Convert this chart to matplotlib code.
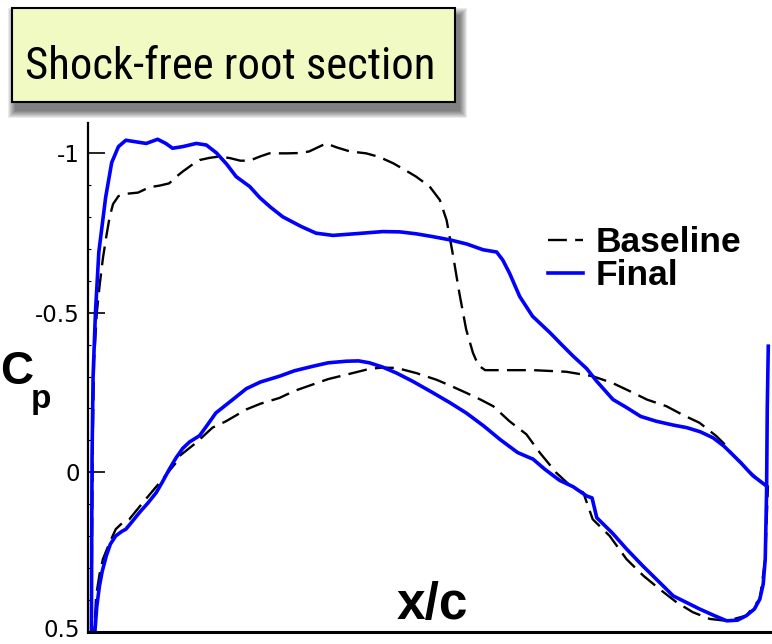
import matplotlib
matplotlib.use("Agg")
import matplotlib.pyplot as plt
from matplotlib import font_manager
from matplotlib.patches import Rectangle
from matplotlib.transforms import ScaledTranslation

plt.rcParams["font.family"] = ["Liberation Sans", "DejaVu Sans"]

# Cp distributions (x/c, Cp) for the root section
final_upper_x = [0.000, 0.0005, 0.001, 0.0025, 0.006, 0.011, 0.021, 0.030, 0.040, 0.051,
                 0.066, 0.081, 0.098, 0.110, 0.120, 0.135, 0.155, 0.170, 0.185, 0.200,
                 0.214, 0.234, 0.249, 0.265, 0.283, 0.310, 0.332, 0.357, 0.395, 0.431,
                 0.456, 0.480, 0.505, 0.530, 0.555, 0.579, 0.599, 0.608, 0.618, 0.633,
                 0.652, 0.678, 0.695, 0.712, 0.732, 0.747, 0.771, 0.791, 0.812, 0.835,
                 0.860, 0.880, 0.900, 0.919, 0.935, 0.948, 0.960, 0.969, 0.978, 0.988, 0.998]
final_upper_cp = [0.55, 0.20, -0.05, -0.30, -0.50, -0.69, -0.86, -0.97, -1.02, -1.04,
                  -1.035, -1.03, -1.043, -1.03, -1.015, -1.02, -1.03, -1.025, -1.00, -0.965,
                  -0.926, -0.895, -0.86, -0.83, -0.80, -0.77, -0.749, -0.742, -0.748, -0.754,
                  -0.753, -0.747, -0.738, -0.728, -0.715, -0.697, -0.690, -0.665, -0.624, -0.551,
                  -0.489, -0.437, -0.400, -0.364, -0.325, -0.285, -0.228, -0.203, -0.175, -0.160,
                  -0.148, -0.140, -0.127, -0.108, -0.082, -0.055, -0.030, -0.009, 0.011, 0.027, 0.043]

final_lower_x = [0.003, 0.0055, 0.008, 0.012, 0.016, 0.022, 0.028, 0.036, 0.045, 0.051,
                 0.060, 0.071, 0.084, 0.096, 0.105, 0.115, 0.125, 0.135, 0.145, 0.160,
                 0.172, 0.184, 0.209, 0.229, 0.250, 0.278, 0.300, 0.327, 0.350, 0.377,
                 0.395, 0.411, 0.430, 0.451, 0.475, 0.505, 0.530, 0.554, 0.580, 0.604,
                 0.630, 0.653, 0.670, 0.692, 0.712, 0.732, 0.740, 0.747, 0.770, 0.791,
                 0.815, 0.840, 0.860, 0.880, 0.899, 0.920, 0.939, 0.955, 0.968, 0.980,
                 0.988, 0.993, 0.996, 0.998, 0.999, 1.0005]
final_lower_cp = [0.60, 0.49, 0.42, 0.355, 0.31, 0.262, 0.225, 0.199, 0.185, 0.178,
                  0.155, 0.126, 0.095, 0.063, 0.030, -0.009, -0.045, -0.075, -0.095, -0.115,
                  -0.150, -0.186, -0.228, -0.262, -0.283, -0.301, -0.318, -0.332, -0.343, -0.348,
                  -0.349, -0.343, -0.330, -0.311, -0.285, -0.249, -0.218, -0.186, -0.145, -0.103,
                  -0.062, -0.041, -0.010, 0.025, 0.045, 0.074, 0.080, 0.142, 0.190, 0.240,
                  0.293, 0.345, 0.387, 0.408, 0.428, 0.448, 0.465, 0.463, 0.449, 0.428,
                  0.397, 0.350, 0.272, 0.060, -0.200, -0.395]

base_upper_x = [0.000, 0.001, 0.002, 0.004, 0.008, 0.012, 0.017, 0.022, 0.027, 0.032,
                0.040, 0.050, 0.069, 0.086, 0.101, 0.115, 0.125, 0.135, 0.148, 0.160,
                0.175, 0.189, 0.205, 0.220, 0.234, 0.249, 0.263, 0.290, 0.308, 0.322,
                0.335, 0.347, 0.362, 0.382, 0.406, 0.425, 0.446, 0.465, 0.480, 0.500,
                0.515, 0.525, 0.534, 0.544, 0.554, 0.564, 0.572, 0.582, 0.604, 0.653,
                0.702, 0.741, 0.770, 0.801, 0.821, 0.850, 0.874, 0.899, 0.924, 0.935,
                0.948, 0.969, 0.988, 0.998]
base_upper_cp = [0.55, 0.20, -0.10, -0.35, -0.50, -0.582, -0.67, -0.738, -0.80, -0.840,
                 -0.865, -0.872, -0.876, -0.893, -0.898, -0.905, -0.925, -0.942, -0.962, -0.978,
                 -0.985, -0.989, -0.984, -0.976, -0.976, -0.989, -0.999, -0.999, -1.000, -1.005,
                 -1.018, -1.030, -1.018, -1.005, -0.999, -0.988, -0.968, -0.945, -0.926, -0.895,
                 -0.853, -0.790, -0.686, -0.560, -0.447, -0.374, -0.335, -0.320, -0.320, -0.320,
                 -0.315, -0.301, -0.280, -0.249, -0.228, -0.207, -0.180, -0.155, -0.113, -0.090,
                 -0.055, -0.009, 0.027, 0.043]

base_lower_x = [0.002, 0.007, 0.012, 0.017, 0.027, 0.036, 0.045, 0.056, 0.076, 0.101,
                0.125, 0.130, 0.155, 0.179, 0.199, 0.229, 0.250, 0.278, 0.300, 0.327,
                0.350, 0.377, 0.411, 0.430, 0.451, 0.480, 0.510, 0.530, 0.554, 0.575,
                0.594, 0.618, 0.643, 0.663, 0.687, 0.712, 0.727, 0.741, 0.766, 0.791,
                0.816, 0.840, 0.865, 0.889, 0.914, 0.939, 0.968, 0.988, 0.996, 0.999, 1.000]
base_lower_cp = [0.60, 0.387, 0.32, 0.272, 0.220, 0.178, 0.160, 0.147, 0.095, 0.032,
                 -0.030, -0.051, -0.093, -0.140, -0.160, -0.197, -0.215, -0.233, -0.255, -0.275,
                 -0.292, -0.306, -0.324, -0.328, -0.327, -0.311, -0.290, -0.272, -0.249, -0.228,
                 -0.207, -0.160, -0.119, -0.061, 0.001, 0.050, 0.063, 0.147, 0.199, 0.272,
                 0.324, 0.366, 0.407, 0.438, 0.459, 0.465, 0.449, 0.397, 0.272, 0.100, 0.043]

W, H = 772, 644
fig = plt.figure(figsize=(W / 100, H / 100), dpi=100)


def fx(px):
    return px / W


def fy(py):
    return 1 - py / H


def pick_family(names):
    for name in names:
        try:
            font_manager.findfont(name, fallback_to_default=False)
            return name
        except ValueError:
            continue
    return "Liberation Sans"


ax = fig.add_axes([fx(88), fy(632), fx(772) - fx(88), fy(123) - fy(632)])

dash = (8, 3.5)
ax.plot(base_upper_x, base_upper_cp, color="black", lw=1.7, dashes=dash, label="Baseline")
ax.plot(base_lower_x, base_lower_cp, color="black", lw=1.7, dashes=dash)
ax.plot(final_upper_x, final_upper_cp, color="#0000ff", lw=2.6, label="Final")
ax.plot(final_lower_x, final_lower_cp, color="#0000ff", lw=2.6)

ax.set_xlim(-0.005, 1.006)
ax.set_ylim(0.5, -1.094)
ax.set_xticks([])
ax.set_yticks([-1, -0.5, 0, 0.5])
ax.set_yticklabels(["-1", "-0.5", "0", "0.5"], fontfamily="DejaVu Sans")
ax.set_yticks([-0.9, -0.8, -0.7, -0.6, -0.4, -0.3, -0.2, -0.1, 0.1, 0.2, 0.3, 0.4], minor=True)
ax.tick_params(axis="y", which="major", direction="in", length=12, width=1.2,
               labelsize=16.5, pad=6)
ax.tick_params(axis="y", which="minor", direction="in", length=2, width=0.8)
# lift the bottom label a touch so it stays inside the figure
bottom_label = ax.get_yticklabels()[-1]
bottom_label.set_transform(bottom_label.get_transform()
                           + ScaledTranslation(0, 3 / 72, fig.dpi_scale_trans))
for side in ("top", "right"):
    ax.spines[side].set_visible(False)
ax.spines["left"].set_linewidth(1.6)
ax.spines["bottom"].set_linewidth(2.2)

ax.legend(loc="upper left", bbox_to_anchor=(fx(548), fy(226)),
          bbox_transform=fig.transFigure, frameon=False,
          prop={"weight": "bold", "size": 25.5}, handlelength=1.0,
          handletextpad=0.35, labelspacing=0.0, borderpad=0, borderaxespad=0)

# axis labels
fig.text(fx(0), fy(384), "C", fontsize=33, fontweight="bold", ha="left", va="baseline")
fig.text(fx(31), fy(408), "p", fontsize=24, fontweight="bold", ha="left", va="baseline")
fig.text(fx(432), fy(619), "x/c", fontsize=37, fontweight="bold", ha="center", va="baseline")

# title box with soft drop shadow
bx0, by0, bx1, by1 = 12, 8, 455, 102
for i in range(8):
    grow = 8 - i
    fig.patches.append(Rectangle((fx(bx0 + 4 - grow), fy(by1 + 8 + grow)),
                                 fx(bx1 - bx0 + 2 * grow), fy(0) - fy(by1 - by0 + 2 * grow),
                                 transform=fig.transFigure, facecolor="black",
                                 alpha=0.08, edgecolor="none", zorder=1))
fig.patches.append(Rectangle((fx(bx0), fy(by1)), fx(bx1 - bx0), fy(0) - fy(by1 - by0),
                             transform=fig.transFigure, facecolor="#f1fac2",
                             edgecolor="black", linewidth=1.5, zorder=2))
title_family = pick_family(["Liberation Sans Narrow", "Roboto Condensed",
                            "DejaVu Sans Condensed", "Open Sans Condensed"])
title = fig.text(fx(25), fy(79), "Shock-free root section", fontsize=35, ha="left",
                 va="baseline", zorder=3, family=title_family)
# shrink the title until it fits inside the box
renderer = fig.canvas.get_renderer()
width = title.get_window_extent(renderer).width
title.set_fontsize(35 * min(1.0, 410 / width))

fig.savefig("out.png", dpi=100)
